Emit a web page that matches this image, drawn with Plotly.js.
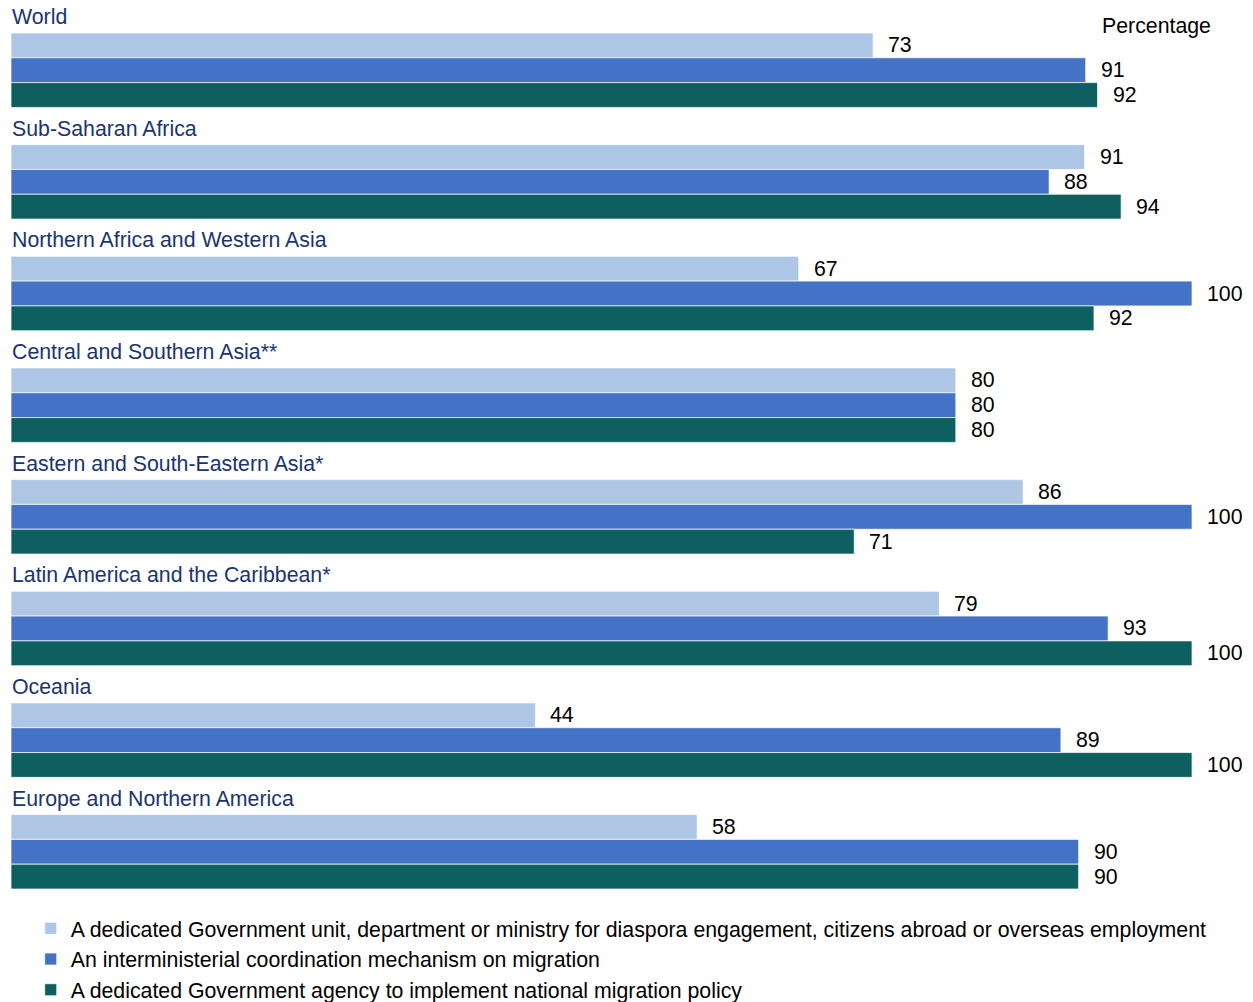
<!DOCTYPE html>
<html>
<head>
<meta charset="utf-8">
<script src="https://cdn.plot.ly/plotly-3.0.1.min.js"></script>
<style>html,body{margin:0;padding:0;background:#fff;}#chart{width:1253px;height:1002px;}</style>
</head>
<body>
<div id="chart"></div>
<script>
const regions = [
  "World",
  "Sub-Saharan Africa",
  "Northern Africa and Western Asia",
  "Central and Southern Asia**",
  "Eastern and South-Eastern Asia*",
  "Latin America and the Caribbean*",
  "Oceania",
  "Europe and Northern America"
];
const seriesNames = [
  "A dedicated Government unit, department or ministry for diaspora engagement, citizens abroad or overseas employment",
  "An interministerial coordination mechanism on migration",
  "A dedicated Government agency to implement national migration policy"
];
// Bar lengths (labels shown rounded)
const dedicatedUnit    = [73, 90.9, 66.7, 80, 85.7, 78.6, 44.4, 58.1];
const interministerial = [91, 87.9, 100, 80, 100, 92.9, 88.9, 90.4];
const dedicatedAgency  = [92, 94, 91.7, 80, 71.4, 100, 100, 90.4];
const seriesValues = [dedicatedUnit, interministerial, dedicatedAgency];
const colors = ["#ADC6E5", "#4472C4", "#0E6060"];

const GROUP_STEP = 4.5;
const pos = (g, s) => g * GROUP_STEP + s;

const FONT = "Liberation Sans, Arial, sans-serif";
const FS = 21.3;

const traces = seriesValues.map((vals, s) => ({
  type: "bar",
  orientation: "h",
  name: seriesNames[s],
  x: vals,
  y: vals.map((v, g) => pos(g, s)),
  width: 1,
  marker: {color: colors[s], line: {color: "rgba(255,255,255,0.7)", width: 1}},
  hoverinfo: "skip"
}));

const annotations = [];
seriesValues.forEach((vals, s) => {
  vals.forEach((v, g) => {
    annotations.push({
      x: v, y: pos(g, s), xref: "x", yref: "y",
      text: String(Math.round(v)), showarrow: false,
      xanchor: "left", yanchor: "middle", xshift: 13,
      font: {family: FONT, size: FS, color: "#000"}
    });
  });
});
regions.forEach((r, g) => {
  annotations.push({
    x: 0, y: pos(g, 0) - 0.5, xref: "x", yref: "y",
    text: r, showarrow: false,
    xanchor: "left", yanchor: "middle", yshift: 16, xshift: -1,
    font: {family: FONT, size: FS, color: "#1B3470"}
  });
});
annotations.push({
  x: (1100 - 11) / 1181, y: 1 + (33 - 26) / 856, xref: "paper", yref: "paper",
  text: "Percentage", showarrow: false, xanchor: "left", yanchor: "middle",
  font: {family: FONT, size: FS, color: "#000"}
});

const layout = {
  width: 1253, height: 1002,
  margin: {l: 11, r: 61, t: 33, b: 113, pad: 0, autoexpand: false},
  paper_bgcolor: "#fff", plot_bgcolor: "#fff",
  barmode: "overlay",
  showlegend: true,
  legend: {
    orientation: "v", traceorder: "normal",
    xref: "paper", yref: "container",
    x: 0.0167, xanchor: "left", y: 1 - 908 / 1002, yanchor: "top",
    font: {family: FONT, size: FS, color: "#000"},
    bgcolor: "rgba(0,0,0,0)", borderwidth: 0
  },
  xaxis: {range: [0, 100], visible: false, fixedrange: true},
  yaxis: {range: [GROUP_STEP * (regions.length - 1) + 2.5, -0.5], visible: false, fixedrange: true},
  annotations: annotations,
  font: {family: FONT}
};

Plotly.newPlot("chart", traces, layout, {displayModeBar: false, staticPlot: true});
</script>
</body>
</html>
